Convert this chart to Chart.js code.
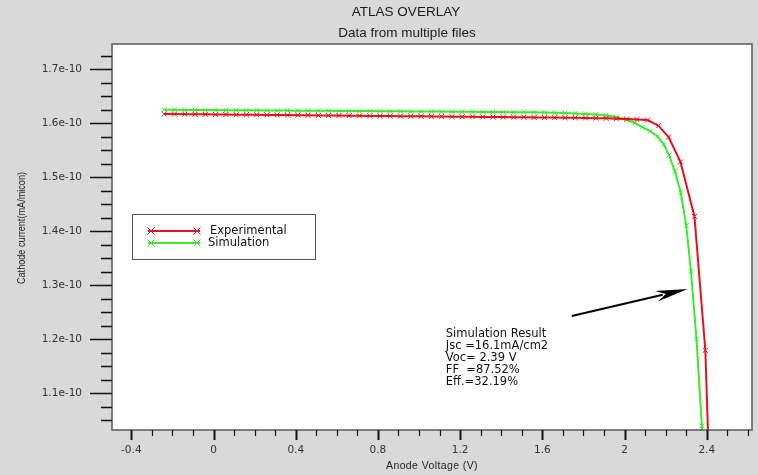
<!DOCTYPE html>
<html>
<head>
<meta charset="utf-8">
<script src="https://cdn.jsdelivr.net/npm/chart.js@4.4.1/dist/chart.umd.min.js"></script>
<style>
html,body{margin:0;padding:0;background:#d9d9d9;}
#wrap{width:758px;height:475px;}
</style>
</head>
<body>
<div id="wrap"><canvas id="c" width="758" height="475"></canvas></div>
<script>
// ---- data ----
const expVoltage = [-0.24,-0.19,-0.14,-0.09,-0.04,0.01,0.06,0.11,0.16,0.21,0.26,0.31,0.36,0.41,0.46,0.51,0.56,0.61,0.66,0.71,0.76,0.81,0.86,0.91,0.96,1.01,1.06,1.11,1.16,1.21,1.26,1.31,1.36,1.41,1.46,1.51,1.56,1.61,1.66,1.71,1.76,1.81,1.86,1.91,1.96,2.01,2.06,2.112,2.165,2.214,2.272,2.34,2.393,2.41];
const expCurrent = [1.6167e-10,1.6165e-10,1.6163e-10,1.6162e-10,1.6160e-10,1.6158e-10,1.6157e-10,1.6155e-10,1.6153e-10,1.6152e-10,1.6150e-10,1.6148e-10,1.6146e-10,1.6145e-10,1.6143e-10,1.6141e-10,1.6139e-10,1.6138e-10,1.6136e-10,1.6134e-10,1.6132e-10,1.6131e-10,1.6129e-10,1.6127e-10,1.6125e-10,1.6124e-10,1.6122e-10,1.6120e-10,1.6118e-10,1.6117e-10,1.6115e-10,1.6113e-10,1.6111e-10,1.6110e-10,1.6108e-10,1.6106e-10,1.6104e-10,1.6102e-10,1.6100e-10,1.6098e-10,1.6096e-10,1.6093e-10,1.6090e-10,1.6086e-10,1.6080e-10,1.6072e-10,1.6065e-10,1.6055e-10,1.5950e-10,1.5740e-10,1.5280e-10,1.4270e-10,1.1790e-10,0.9800e-10];
const simVoltage = [-0.24,-0.19,-0.14,-0.09,-0.04,0.01,0.06,0.11,0.16,0.21,0.26,0.31,0.36,0.41,0.46,0.51,0.56,0.61,0.66,0.71,0.76,0.81,0.86,0.91,0.96,1.01,1.06,1.11,1.16,1.21,1.26,1.31,1.36,1.41,1.46,1.51,1.56,1.61,1.66,1.71,1.76,1.81,1.86,1.91,1.96,2.01,2.05,2.086,2.125,2.159,2.19,2.216,2.245,2.273,2.30,2.323,2.35,2.376,2.39];
const simCurrent = [1.6246e-10,1.6245e-10,1.6243e-10,1.6242e-10,1.6241e-10,1.6240e-10,1.6238e-10,1.6237e-10,1.6236e-10,1.6234e-10,1.6233e-10,1.6232e-10,1.6231e-10,1.6229e-10,1.6228e-10,1.6227e-10,1.6225e-10,1.6224e-10,1.6223e-10,1.6222e-10,1.6220e-10,1.6219e-10,1.6218e-10,1.6216e-10,1.6215e-10,1.6214e-10,1.6212e-10,1.6211e-10,1.6210e-10,1.6209e-10,1.6207e-10,1.6206e-10,1.6204e-10,1.6203e-10,1.6201e-10,1.6199e-10,1.6197e-10,1.6194e-10,1.6190e-10,1.6185e-10,1.6178e-10,1.6169e-10,1.6157e-10,1.6141e-10,1.6110e-10,1.6060e-10,1.6000e-10,1.5925e-10,1.5850e-10,1.5754e-10,1.5610e-10,1.5407e-10,1.5110e-10,1.4717e-10,1.4100e-10,1.3254e-10,1.2000e-10,1.0390e-10,0.9500e-10];

const seriesNames = ['Experimental','Simulation'];
const xTickValues = [-0.4,0,0.4,0.8,1.2,1.6,2,2.4];
const xTickLabels = ['-0.4','0','0.4','0.8','1.2','1.6','2','2.4'];
const yTickValues = [1.1e-10,1.2e-10,1.3e-10,1.4e-10,1.5e-10,1.6e-10,1.7e-10];
const yTickLabels = ['1.1e-10','1.2e-10','1.3e-10','1.4e-10','1.5e-10','1.6e-10','1.7e-10'];
const titleText = 'ATLAS OVERLAY';
const subtitleText = 'Data from multiple files';
const xTitle = 'Anode Voltage (V)';
const yTitle = 'Cathode current(mA/micon)';
const noteLines = ['Simulation Result','Jsc =16.1mA/cm2','Voc= 2.39 V','FF  =87.52%','Eff.=32.19%'];
// annotation anchors in data units
const noteAnchor = {x:1.13, y:1.209e-10};
const arrowFrom = {x:1.743, y:1.2426e-10};
const arrowTo = {x:2.307, y:1.2926e-10};

const X_MIN = -0.494, X_MAX = 2.62, Y_MIN = 1.0315e-10, Y_MAX = 1.7463e-10;
const RED = '#e5121b', GREEN = '#3ee832';

function pts(xs, ys){ return xs.map((x,i)=>({x:x, y:ys[i]})); }

function drawCross(ctx, x, y, r, color){
  ctx.save(); ctx.strokeStyle=color; ctx.lineWidth=1;
  ctx.beginPath();
  ctx.moveTo(x-r,y-r); ctx.lineTo(x+r,y+r);
  ctx.moveTo(x-r,y+r); ctx.lineTo(x+r,y-r);
  ctx.stroke(); ctx.restore();
}

const overlay = {
  id:'overlay',
  beforeDraw(chart){
    const ctx = chart.ctx, a = chart.chartArea;
    ctx.save();
    ctx.fillStyle = '#d9d9d9';
    ctx.fillRect(0,0,chart.width,chart.height);
    ctx.fillStyle = '#ffffff';
    ctx.fillRect(a.left,a.top,a.right-a.left,a.bottom-a.top);
    ctx.restore();
  },
  afterDraw(chart){
    const ctx = chart.ctx, a = chart.chartArea;
    const xs = chart.scales.x, ys = chart.scales.y;
    ctx.save();
    // frame
    ctx.strokeStyle = '#5a5a5a'; ctx.lineWidth = 1.5;
    ctx.strokeRect(a.left, a.top, a.right-a.left, a.bottom-a.top);
    // y ticks (major + minor)
    ctx.strokeStyle = '#111'; ctx.lineWidth = 1.5;
    const yStep = 0.025e-10;
    for (let k = Math.ceil(Y_MIN/yStep - 1e-6); k*yStep <= Y_MAX + 1e-16; k++){
      const p = Math.round(ys.getPixelForValue(k*yStep)) + 0.5;
      const len = (k % 4 === 0) ? 22 : 11;
      ctx.beginPath(); ctx.moveTo(a.left - len, p); ctx.lineTo(a.left, p); ctx.stroke();
    }
    // x ticks
    for (let k = Math.ceil(X_MIN/0.1 - 1e-6); k*0.1 <= X_MAX + 1e-9; k++){
      const p = Math.round(xs.getPixelForValue(k*0.1)) + 0.5;
      const major = ((k % 4) + 4) % 4 === 0;
      const len = major ? 10 : 6;
      ctx.lineWidth = major ? 2 : 1.2;
      ctx.beginPath(); ctx.moveTo(p, a.bottom); ctx.lineTo(p, a.bottom + len); ctx.stroke();
    }
    // titles
    ctx.fillStyle = '#1a1a1a';
    ctx.textAlign = 'center'; ctx.textBaseline = 'middle';
    ctx.font = '13.5px "Liberation Sans", Arial, sans-serif';
    ctx.fillText(titleText, 406, 12);
    ctx.fillText(subtitleText, 407, 33);
    ctx.font = '10.5px "Liberation Sans", Arial, sans-serif';
    ctx.fillStyle = '#222';
    try { ctx.letterSpacing = '0.4px'; } catch(e) {}
    ctx.fillText(xTitle, (a.left+a.right)/2, 466);
    try { ctx.letterSpacing = '0px'; } catch(e) {}
    ctx.save();
    ctx.translate(22, 228); ctx.rotate(-Math.PI/2); ctx.scale(0.83, 1);
    ctx.font = '11px "Liberation Sans", Arial, sans-serif';
    ctx.fillText(yTitle, 0, 0);
    ctx.restore();
    // legend box
    ctx.fillStyle = '#fff';
    ctx.fillRect(132.5, 214.5, 183, 45);
    ctx.strokeStyle = '#555'; ctx.lineWidth = 1;
    ctx.strokeRect(132.5, 214.5, 183, 45);
    const legY = [231, 243], legC = [RED, GREEN];
    ctx.textAlign = 'left';
    ctx.font = '11.5px "DejaVu Sans", Verdana, sans-serif';
    for (let i=0;i<2;i++){
      ctx.strokeStyle = legC[i]; ctx.lineWidth = 2;
      ctx.beginPath(); ctx.moveTo(148, legY[i]); ctx.lineTo(200, legY[i]); ctx.stroke();
      drawCross(ctx, 151, legY[i], 3.5, legC[i]);
      drawCross(ctx, 197, legY[i], 3.5, legC[i]);
      ctx.fillStyle = '#111';
      ctx.fillText(seriesNames[i], i===0 ? 210 : 208, legY[i] + 0.5);
    }
    // annotation text
    const tx = xs.getPixelForValue(noteAnchor.x), ty = ys.getPixelForValue(noteAnchor.y);
    ctx.font = '11.5px "DejaVu Sans", Verdana, sans-serif';
    ctx.fillStyle = '#111';
    noteLines.forEach((s,i)=>ctx.fillText(s, tx, ty + i*12));
    // arrow
    const x0 = xs.getPixelForValue(arrowFrom.x), y0 = ys.getPixelForValue(arrowFrom.y);
    const x1 = xs.getPixelForValue(arrowTo.x), y1 = ys.getPixelForValue(arrowTo.y);
    const ang = Math.atan2(y1-y0, x1-x0);
    const hl = 32, hw = 5.5;
    ctx.strokeStyle = '#000'; ctx.lineWidth = 2;
    ctx.beginPath(); ctx.moveTo(x0,y0);
    ctx.lineTo(x1 - Math.cos(ang)*hl*0.8, y1 - Math.sin(ang)*hl*0.8); ctx.stroke();
    const bx = x1 - Math.cos(ang)*hl, by = y1 - Math.sin(ang)*hl;
    const nx = -Math.sin(ang), ny = Math.cos(ang);
    const mx = x1 - Math.cos(ang)*hl*0.7, my = y1 - Math.sin(ang)*hl*0.7;
    ctx.fillStyle = '#000';
    ctx.beginPath();
    ctx.moveTo(x1,y1);
    ctx.lineTo(bx + nx*hw, by + ny*hw);
    ctx.lineTo(mx, my);
    ctx.lineTo(bx - nx*hw, by - ny*hw);
    ctx.closePath(); ctx.fill();
    ctx.restore();
  }
};

new Chart(document.getElementById('c'), {
  type: 'scatter',
  data: {
    datasets: [
      {label: seriesNames[0], data: pts(expVoltage, expCurrent), showLine: true, borderColor: RED, backgroundColor: RED,
       borderWidth: 2, pointStyle: 'crossRot', pointRadius: 3.5, pointBorderWidth: 1, pointBorderColor: RED, tension: 0},
      {label: seriesNames[1], data: pts(simVoltage, simCurrent), showLine: true, borderColor: GREEN, backgroundColor: GREEN,
       borderWidth: 2, pointStyle: 'crossRot', pointRadius: 3.5, pointBorderWidth: 1, pointBorderColor: GREEN, tension: 0}
    ]
  },
  options: {
    responsive: false,
    animation: false,
    devicePixelRatio: 1,
    layout: {padding: {top: 44, right: 6, left: 0, bottom: 0}},
    plugins: {legend: {display: false}, title: {display: false}, tooltip: {enabled: false}},
    scales: {
      x: {
        type: 'linear', min: X_MIN, max: X_MAX,
        afterBuildTicks: s => { s.ticks = xTickValues.map(v => ({value: v})); },
        afterFit: s => { s.height = 45; },
        grid: {display: false, drawTicks: false},
        border: {display: false},
        ticks: {autoSkip: false, maxRotation: 0, padding: 14, color: '#333',
                font: {family: '"DejaVu Sans", Verdana, sans-serif', size: 10.5},
                callback: (v, i) => xTickLabels[i]}
      },
      y: {
        type: 'linear', min: Y_MIN, max: Y_MAX,
        afterBuildTicks: s => { s.ticks = yTickValues.map(v => ({value: v})); },
        afterFit: s => { s.width = 112; },
        grid: {display: false, drawTicks: false},
        border: {display: false},
        ticks: {autoSkip: false, padding: 30, color: '#333',
                font: {family: '"DejaVu Sans", Verdana, sans-serif', size: 10.5},
                callback: (v, i) => yTickLabels[i]}
      }
    }
  },
  plugins: [overlay]
});
</script>
</body>
</html>
